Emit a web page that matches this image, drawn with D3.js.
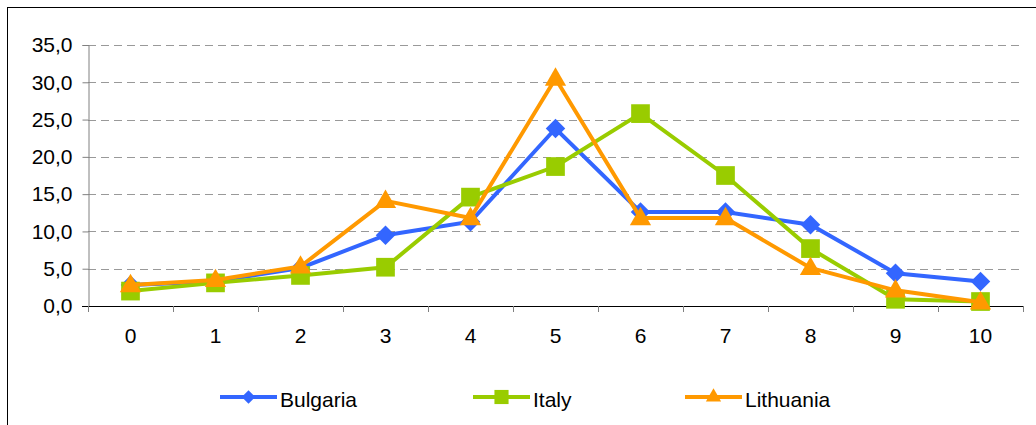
<!DOCTYPE html>
<html><head><meta charset="utf-8">
<script src="https://cdn.jsdelivr.net/npm/d3@7"></script>
<style>body{margin:0;background:#fff}svg{display:block}text{font-family:"Liberation Sans",Arial,sans-serif;fill:#000}</style>
</head><body>
<svg id="c" width="1036" height="425"></svg>
<script>
const categories = ["0","1","2","3","4","5","6","7","8","9","10"];
const bulgaria  = [2.8, 3.3, 5.1, 9.5, 11.3, 23.8, 12.6, 12.6, 10.9, 4.4, 3.3];
const italy     = [2.0, 3.1, 4.1, 5.2, 14.6, 18.7, 25.8, 17.5, 7.7, 0.9, 0.6];
const lithuania = [2.8, 3.5, 5.3, 14.1, 11.8, 30.5, 11.8, 11.8, 5.1, 2.1, 0.5];
const yTicks = [0, 5, 10, 15, 20, 25, 30, 35];
const seriesNames = ["Bulgaria", "Italy", "Lithuania"];
const seriesColors = ["#3366FF", "#99CC00", "#FF9900"];

(function(){
const svg = d3.select("#c");
svg.append("rect").attr("x",7.5).attr("y",7.5).attr("width",1040).attr("height",440)
  .attr("fill","none").attr("stroke","#000").attr("stroke-width",1);

const pL = 88, pR = 1023, pT = 45, pB = 306;
const x = d3.scaleBand().domain(categories).range([pL, pR]);
const y = d3.scaleLinear().domain([0, 35]).range([pB, pT]);

// gridlines
svg.append("g").selectAll("line").data(yTicks.filter(d=>d>0)).join("line")
  .attr("x1", pL).attr("x2", pR)
  .attr("y1", d=>Math.round(y(d))+0.5).attr("y2", d=>Math.round(y(d))+0.5)
  .attr("stroke", "#999").attr("stroke-dasharray", "8,5");

// y axis
const yAxis = svg.append("g").attr("transform", `translate(${pL+0.5},0)`)
  .call(d3.axisLeft(y).tickValues(yTicks).tickSize(6).tickPadding(10)
    .tickFormat(d => d3.format(".1f")(d).replace(".", ",")));
yAxis.select(".domain").attr("stroke", "#808080");
yAxis.selectAll(".tick line").attr("stroke", "#808080");
yAxis.selectAll("text").style("font-size", "21px").attr("fill", "#000");

// x axis
const xAxis = svg.append("g").attr("transform", `translate(0,${pB+0.5})`)
  .call(d3.axisBottom(x).tickSize(0).tickPadding(22));
xAxis.select(".domain").attr("stroke", "#000").attr("d", `M${pL-6},0H${pR}`);
xAxis.selectAll("text").style("font-size", "21px").attr("fill", "#000");
// category boundary ticks
svg.append("g").selectAll("line").data(d3.range(categories.length + 1)).join("line")
  .attr("x1", i => Math.round(pL + i * x.step()) + 0.5)
  .attr("x2", i => Math.round(pL + i * x.step()) + 0.5)
  .attr("y1", pB).attr("y2", pB + 6).attr("stroke", "#808080");

// marker shapes: diamond (rotated square), square, triangle
function marker(sel, s, big) {
  if (s === 0) {
    sel.attr("d", d3.symbol().type(d3.symbolSquare).size(big ? 190 : 90)());
    return "rotate(45)";
  } else if (s === 1) {
    sel.attr("d", d3.symbol().type(d3.symbolSquare).size(big ? 350 : 200)());
  } else {
    sel.attr("d", d3.symbol().type(d3.symbolTriangle).size(big ? 195 : 100)());
  }
  return "";
}

const data = [bulgaria, italy, lithuania];
const line = d3.line().x((d,i)=>x(categories[i]) + x.bandwidth()/2).y(d=>y(d));
data.forEach((vals, s) => {
  svg.append("path").datum(vals).attr("d", line).attr("fill","none")
    .attr("stroke", seriesColors[s]).attr("stroke-width", 4).attr("stroke-linejoin","miter");
  svg.append("g").selectAll("path").data(vals).join("path")
    .each(function(d,i){
      const p = d3.select(this);
      const rot = marker(p, s, true);
      const dy = s === 2 ? 1 : 0;
      p.attr("transform", `translate(${x(categories[i]) + x.bandwidth()/2},${y(d)+dy}) ${rot}`);
    })
    .attr("fill", seriesColors[s]);
});

// legend
const legendX = [220, 473, 685];
const ly = 397;
seriesNames.forEach((n, s) => {
  const g = svg.append("g");
  g.append("line").attr("x1", legendX[s]).attr("x2", legendX[s] + 57)
    .attr("y1", ly).attr("y2", ly).attr("stroke", seriesColors[s]).attr("stroke-width", 4);
  const p = g.append("path").attr("fill", seriesColors[s]);
  const rot = marker(p, s, false);
  p.attr("transform", `translate(${legendX[s]+28.5},${ly}) ${rot}`);
  g.append("text").attr("x", legendX[s] + 60).attr("y", 407)
    .style("font-size", "21px").text(n);
});
})();
</script>
</body></html>
